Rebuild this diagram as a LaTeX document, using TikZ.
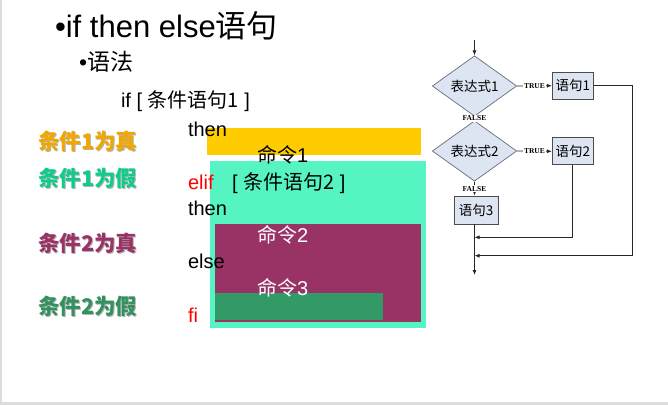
\documentclass[tikz,border=0pt]{standalone}
\usepackage{fontspec}
\setmainfont{Liberation Sans}
\newfontfamily\cjk{Noto Sans CJK SC}
\newfontfamily\serifb{Liberation Serif}
\newcommand\cn[1]{{\cjk #1}}
\usetikzlibrary{shapes.geometric,arrows.meta}
\definecolor{yel}{HTML}{FFCC00}
\definecolor{aqua}{HTML}{56F4C2}
\definecolor{maroon}{HTML}{993366}
\definecolor{dgreen}{HTML}{339966}
\definecolor{lorange}{HTML}{F0A800}
\definecolor{lgreen}{HTML}{10CC88}
\definecolor{lmaroon}{HTML}{993366}
\definecolor{ldgreen}{HTML}{33905F}
\definecolor{fcfill}{RGB}{222,229,242}
\definecolor{fcline}{RGB}{100,110,125}
\definecolor{frame}{RGB}{220,220,220}
\tikzset{
  txt/.style={anchor=base west, inner sep=0pt, outer sep=0pt},
  code/.style={txt, font=\fontsize{20}{24}\selectfont},
  lab/.style={anchor=west, inner sep=0pt, font=\cjk\bfseries\fontsize{21.5}{24}\selectfont},
  shad/.style={lab, text=black!30},
  dia/.style={diamond, draw=fcline, fill=fcfill, line width=0.7pt, minimum width=84.4pt, minimum height=38.3pt, inner sep=0pt, font=\cjk\fontsize{13.5}{15}\selectfont},
  fbox/.style={rectangle, draw=black!70, fill=fcfill, line width=0.8pt, minimum width=41pt, minimum height=27pt, inner sep=0pt, font=\cjk\fontsize{13.5}{15}\selectfont},
  conn/.style={draw=black!85, line width=0.8pt},
  arr/.style={conn, -{Latex[length=5pt,width=4pt]}},
  tf/.style={fill=white, inner sep=0.6pt, font=\serifb\bfseries\fontsize{7.5}{8}\selectfont},
}
\begin{document}
\begin{tikzpicture}[x=1pt,y=-1pt]
\useasboundingbox (0,0) rectangle (668,405);
% frame
\fill[frame] (0,402) rectangle (668,405);
\fill[frame] (0,0) rectangle (1.5,405);
% title
\node[txt, font=\fontsize{31}{36}\selectfont] (title) at (55,37) {•if then else\cn{语句}};
\node[txt, font=\fontsize{23}{28}\selectfont] (sub) at (79,70) {•\cn{语法}};
\node[code] (if1) at (121,107) {if [ \cn{条件语句1} ]};
% coloured blocks
\fill[yel] (207,128) rectangle (421,155);
\fill[aqua] (210,161) rectangle (426,328);
\fill[maroon] (215,224) rectangle (421,322);
\fill[dgreen] (215,293) rectangle (383,320);
% code text
\node[code] (then1) at (188,136) {then};
\node[code] (cmd1) at (257,162) {\cn{命令}1};
\node[code, text=red] (elif) at (188,189) {elif};
\node[code] (cond2) at (232,189) {[ \cn{条件语句2} ]};
\node[code] (then2) at (188,215) {then};
\node[code, text=white] (cmd2) at (257,242) {\cn{命令}2};
\node[code] (else) at (188,268) {else};
\node[code, text=white] (cmd3) at (257,295) {\cn{命令}3};
\node[code, text=red] (fi) at (188,322) {fi};
% labels with shadow
\node[shad] (l1s) at (39,142.7) {条件1为真};
\node[lab, text=lorange] (l1) at (38,141.7) {条件1为真};
\node[shad] (l2s) at (39,179) {条件1为假};
\node[lab, text=lgreen] (l2) at (38,178) {条件1为假};
\node[shad] (l3s) at (39,244) {条件2为真};
\node[lab, text=lmaroon] (l3) at (38,243) {条件2为真};
\node[shad] (l4s) at (39,307) {条件2为假};
\node[lab, text=ldgreen] (l4) at (38,306) {条件2为假};
% flowchart
\coordinate (top) at (474.5,40);
\node[dia] (d1) at (474.5,86) {表达式1};
\node[dia] (d2) at (474.5,151) {表达式2};
\node[fbox] (b1) at (572.8,85.7) {语句1};
\node[fbox] (b2) at (572.8,151.3) {语句2};
\node[fbox, minimum width=44pt, minimum height=28pt] (b3) at (476,210) {语句3};
\coordinate (bot) at (474.5,275);
\coordinate (j1) at (474.5,237.3);
\coordinate (j2) at (474.5,255.7);
\coordinate (r1) at (632.7,255.7);
\draw[arr] (top) -- (d1.north);
\draw[arr] (d1.east) -- node[tf] (t1) {TRUE} (b1.west);
\draw[arr] (d1.south) -- node[tf] (f1) {FALSE} (d2.north);
\draw[arr] (d2.east) -- node[tf] (t2) {TRUE} (b2.west);
\draw[arr] (d2.south) -- node[tf] (f2) {FALSE} (b3.north -| d2.south);
\draw[arr] (b3.south -| bot) -- (bot);
\draw[arr] (b2.south) |- (j1);
\draw[arr] (b1.east) -| (r1) -- (j2);
\end{tikzpicture}
\end{document}
